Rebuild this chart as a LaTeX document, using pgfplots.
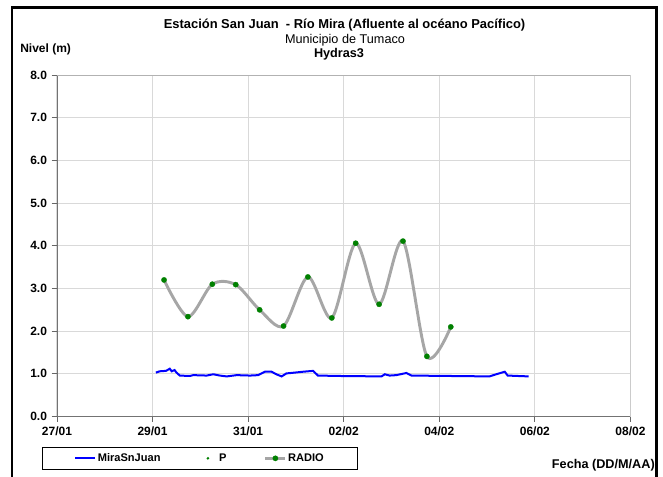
\documentclass[border=0pt]{standalone}
\usepackage{pgfplots}
\pgfplotsset{compat=1.18}
\usepackage{fontspec}
\setmainfont{Liberation Sans}
\definecolor{radiogray}{RGB}{166,166,166}
\definecolor{pgreen}{RGB}{0,128,0}
\definecolor{gridgray}{RGB}{217,217,217}
\pgfplotsset{mylegend/.style={legend image code/.code={\path[draw=none] (0pt,0pt) -- (15pt,0pt);\draw[mark repeat=2,mark phase=2,##1] plot coordinates {(0pt,0pt) (7.5pt,0pt) (15pt,0pt)};}}}
\begin{document}
\begin{tikzpicture}
\path[use as bounding box] (0pt,0pt) rectangle (497.25pt,-357.75pt);
\begin{axis}[
  at={(42.75pt,-312.4pt)}, anchor=south west,
  scale only axis, width=430.1pt, height=256.1pt,
  xmin=0, xmax=12, ymin=0, ymax=8,
  xtick={0,2,...,12},
  xticklabels={27/01,29/01,31/01,02/02,04/02,06/02,08/02},
  ytick={0,1,...,8},
  /pgf/number format/assume math mode=true,
  yticklabel style={/pgf/number format/fixed,/pgf/number format/precision=1,/pgf/number format/fixed zerofill},
  ticklabel style={font=\fontsize{9}{10}\selectfont\bfseries},
  axis x line*=bottom, axis y line*=left,
  axis line style={black!55, line width=0.7pt, -},
  tick style={black!60, line width=0.6pt},
  tick align=outside, major tick length=4pt,
  grid=major, major grid style={gridgray, line width=0.75pt},
  legend columns=3,
  legend style={at={(-0.026,-0.089)}, anchor=north west, draw=black, line width=0.6pt,
    font=\fontsize{8.3}{9}\selectfont\bfseries, inner xsep=24pt, inner ysep=2.5pt,
    /tikz/every even column/.append style={column sep=27pt},
    nodes={inner xsep=1pt}},
]
\draw[black!30, line width=0.7pt] (rel axis cs:0,1) -- (rel axis cs:1,1) -- (rel axis cs:1,0);
\addplot[blue, line width=1.5pt, mylegend] coordinates {
(2.07,1.03) (2.15,1.06) (2.28,1.07) (2.36,1.12) (2.40,1.06) (2.46,1.09) (2.50,1.03)
(2.57,0.96) (2.78,0.95) (2.85,0.97) (3.13,0.96) (3.27,0.99) (3.41,0.96) (3.55,0.94)
(3.76,0.97) (4.04,0.96) (4.21,0.97) (4.35,1.05) (4.49,1.05) (4.59,0.99) (4.70,0.94)
(4.80,1.01) (4.98,1.03) (5.15,1.05) (5.36,1.07) (5.46,0.96) (5.92,0.95) (6.79,0.94)
(6.86,0.99) (6.96,0.96) (7.10,0.97) (7.31,1.02) (7.42,0.96) (9.05,0.94) (9.19,0.99)
(9.37,1.05) (9.43,0.96) (9.87,0.94)};
\addlegendentry{MiraSnJuan}
\addlegendimage{legend image code/.code={\path[draw=none,fill=none] (0pt,0pt) -- (15pt,0pt);\path[draw=none,fill=pgreen] (7.5pt,0pt) circle[radius=1.1pt];}}
\addlegendentry{P}
\addplot[radiogray, line width=2.2pt, smooth, mark=*, mark size=2pt, mylegend,
  mark options={solid, draw=pgreen, fill=pgreen, line width=0.2pt}] coordinates {
(2.24,3.20) (2.74,2.34) (3.25,3.10) (3.74,3.09) (4.24,2.50) (4.74,2.12) (5.25,3.27)
(5.75,2.31) (6.25,4.06) (6.74,2.63) (7.24,4.11) (7.74,1.41) (8.24,2.10)};
\addlegendentry{RADIO}
\end{axis}
\begin{scope}[x=0.75pt,y=-0.75pt]
\node[anchor=base, inner sep=0pt, font=\fontsize{9.7}{11}\selectfont\bfseries] at (344.5,28.7) {Estación San Juan\ \ - Río Mira (Afluente al océano Pacífico)};
\node[anchor=base, inner sep=0pt, font=\fontsize{9.5}{11}\selectfont] at (345,44) {Municipio de Tumaco};
\node[anchor=base, inner sep=0pt, font=\fontsize{9.5}{11}\selectfont\bfseries] at (339,58) {Hydras3};
\node[anchor=base west, inner sep=0pt, font=\fontsize{9}{10}\selectfont\bfseries] at (20,53) {Nivel (m)};
\node[anchor=base east, inner sep=0pt, font=\fontsize{9.5}{10}\selectfont\bfseries] at (655,468) {Fecha (DD/M/AA)};
\draw[line width=1.7pt] (12,482) -- (12,7.5) -- (656.5,7.5) -- (656.5,482);
\end{scope}
\end{tikzpicture}
\end{document}
